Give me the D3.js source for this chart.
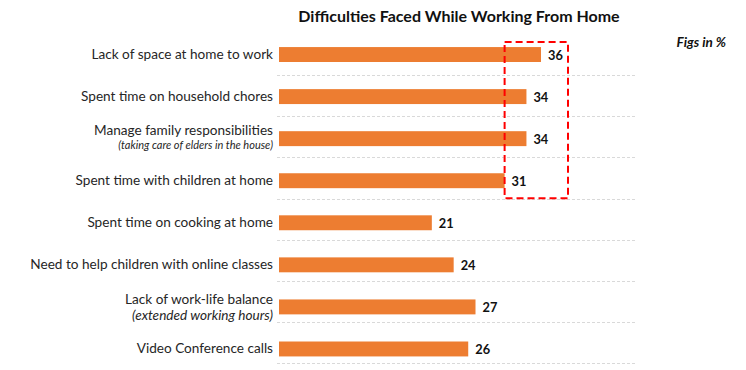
<!DOCTYPE html>
<head>
  <meta charset="utf-8">
  <script src="https://d3js.org/d3.v7.min.js"></script>
  <style>
    body {
      margin: 0;
      background: #fff;
      font-family: Lato, "Open Sans", sans-serif;
    }
    .grid line {
      stroke: #d9d9d9;
      stroke-dasharray: 3, 2;
    }
    .cat {
      fill: #262626;
      font-size: 13.6px;
    }
    .value {
      fill: #111;
      font-size: 12.8px;
      font-weight: bold;
    }
  </style>
</head>
<body>
  <script>
    var categories = [
      "Lack of space at home to work",
      "Spent time on household chores",
      "Manage family responsibilities",
      "Spent time with children at home",
      "Spent time on cooking at home",
      "Need to help children with online classes",
      "Lack of work-life balance",
      "Video Conference calls"
    ];
    var subLabels = ["", "", "(taking care of elders in the house)", "", "", "", "(extended working hours)", ""];
    var values = [36, 34, 34, 31, 21, 24, 27, 26];
    var highlighted = 4; // first four rows sit inside the dashed box

    var width = 746, height = 370;
    var barColor = "#ed7d31";

    var svg = d3.select("body").append("svg")
      .attr("width", width)
      .attr("height", height);

    var x = d3.scaleLinear()
      .domain([0, 36])
      .range([279, 541]);

    var y = d3.scaleBand()
      .domain(categories)
      .range([33.5, 370])
      .paddingInner(0.645)
      .paddingOuter(0.3225);

    // separators use a slightly tighter band than the bars
    var yGrid = d3.scaleBand()
      .domain(categories)
      .range([34, 363]);

    var bw = y.bandwidth();

    // title
    svg.append("text")
      .attr("x", 459)
      .attr("y", 22)
      .attr("text-anchor", "middle")
      .style("font-size", "16px")
      .style("font-weight", "bold")
      .style("fill", "#111")
      .text("Difficulties Faced While Working From Home");

    svg.append("text")
      .attr("x", 726)
      .attr("y", 47)
      .attr("text-anchor", "end")
      .style("font-size", "13.5px")
      .style("font-weight", "bold")
      .style("font-style", "italic")
      .style("fill", "#111")
      .text("Figs in %");

    // dotted separators under each row
    svg.append("g").attr("class", "grid")
      .selectAll("line")
      .data(categories)
      .enter().append("line")
      .attr("x1", 277)
      .attr("x2", 637)
      .attr("y1", d => Math.round(yGrid(d) + yGrid.step()) + 0.5)
      .attr("y2", d => Math.round(yGrid(d) + yGrid.step()) + 0.5);

    svg.selectAll(".bar")
      .data(categories)
      .enter().append("rect")
      .attr("class", "bar")
      .attr("x", x(0))
      .attr("y", d => y(d))
      .attr("width", (d, i) => x(values[i]) - x(0))
      .attr("height", bw)
      .style("fill", barColor);

    svg.selectAll(".value")
      .data(categories)
      .enter().append("text")
      .attr("class", "value")
      .attr("x", (d, i) => x(values[i]) + 7)
      .attr("y", d => y(d) + bw / 2 + 5)
      .text((d, i) => values[i]);

    // category labels, some with an italic second line
    var labels = svg.selectAll(".cat")
      .data(categories)
      .enter().append("text")
      .attr("class", "cat")
      .attr("text-anchor", "end");

    labels.append("tspan")
      .attr("x", 273)
      .attr("y", (d, i) => {
        var c = y(d) + bw / 2;
        if (!subLabels[i]) return c + 4.5;
        return i == 2 ? c - 4 : c - 3;
      })
      .text(d => d);

    labels.filter((d, i) => subLabels[i])
      .append("tspan")
      .attr("x", 273)
      .attr("y", d => {
        var i = categories.indexOf(d);
        return y(d) + bw / 2 + (i == 2 ? 10 : 13);
      })
      .style("font-style", "italic")
      .style("font-size", d => categories.indexOf(d) == 2 ? "11px" : "13.6px")
      .text(d => subLabels[categories.indexOf(d)]);

    // red dashed box around the top rows
    var firstCat = categories[0], lastCat = categories[highlighted - 1];
    var boxTop = y(firstCat) - 5;
    svg.append("rect")
      .attr("x", x(values[highlighted - 1]))
      .attr("y", boxTop)
      .attr("width", x(values[0]) + 27 - x(values[highlighted - 1]))
      .attr("height", y(lastCat) + bw + 10 - boxTop)
      .style("fill", "none")
      .style("stroke", "#ff0000")
      .style("stroke-width", 2)
      .style("stroke-dasharray", "7,4");
  </script>
</body>
